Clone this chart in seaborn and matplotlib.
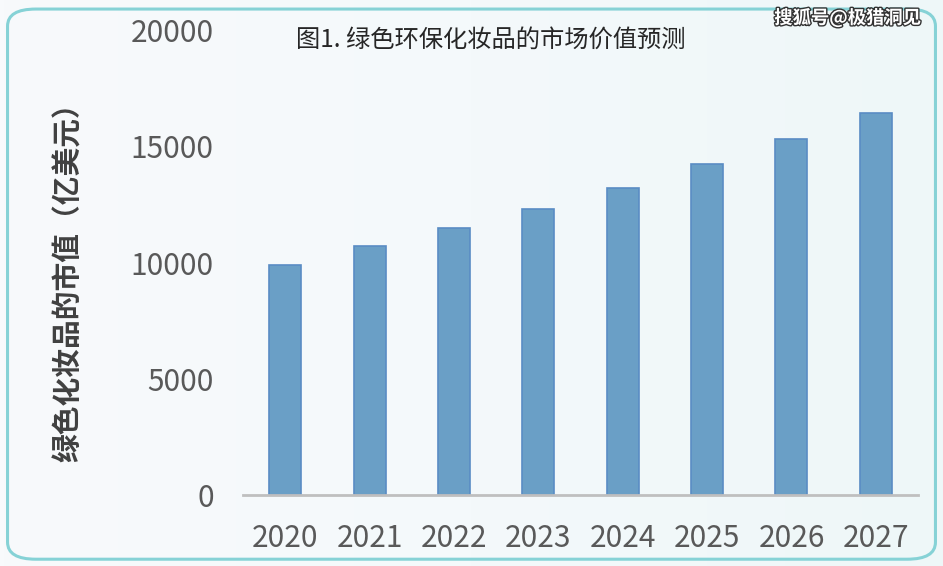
import matplotlib
matplotlib.use("Agg")
import matplotlib.pyplot as plt
import matplotlib.patheffects as pe
from matplotlib.patches import FancyBboxPatch
from matplotlib.colors import LinearSegmentedColormap
import numpy as np
import pandas as pd
import seaborn as sns

years = ["2020", "2021", "2022", "2023", "2024", "2025", "2026", "2027"]
values = [9900, 10700, 11500, 12300, 13200, 14250, 15300, 16450]
yticks = [0, 5000, 10000, 15000, 20000]
title = "图1. 绿色环保化妆品的市场价值预测"
ylabel = "绿色化妆品的市值（亿美元）"
watermark = "搜狐号@极猎洞见"

sns.set_style("white")
plt.rcParams['font.family'] = ['Noto Sans CJK SC', 'DejaVu Sans']

df = pd.DataFrame({"year": years, "value": values})

fig = plt.figure(figsize=(9.43, 5.66), dpi=100)
fig.patch.set_facecolor("white")

# background gradient panel
bg = fig.add_axes([0, 0, 1, 1], zorder=-10)
grad = np.linspace(0, 1, 256)[None, :]
cmap = LinearSegmentedColormap.from_list("bg", ["#f8fafc", "#f4f9fb", "#eef7f8"])
bg.imshow(grad, aspect="auto", cmap=cmap, extent=[0, 1, 0, 1])
bg.set_xlim(0, 1); bg.set_ylim(0, 1)
bg.axis("off")
border = FancyBboxPatch((0.008, 0.012), 0.984, 0.972,
                        boxstyle="round,pad=0,rounding_size=0.03",
                        transform=bg.transAxes, fill=False,
                        edgecolor="#86d2d6", linewidth=2.2)
bg.add_patch(border)

ax = fig.add_axes([0.2577, 0.1254, 0.7158, 0.8216])
ax.patch.set_alpha(0)
sns.barplot(data=df, x="year", y="value", ax=ax, color="#6a9fc6",
            width=0.38, saturation=1, edgecolor="#5a8cc4", linewidth=1.2)

ax.set_ylim(0, 20000)
ax.set_yticks(yticks)
ax.set_yticklabels([str(v) for v in yticks])
ax.tick_params(axis="both", length=0, labelsize=21.5, labelcolor="#595959")
ax.tick_params(axis="y", pad=21)
ax.tick_params(axis="x", pad=20)
ax.set_xlabel("")
ax.set_ylabel("")
for s in ["top", "right", "left"]:
    ax.spines[s].set_visible(False)
ax.spines["bottom"].set_color("#bfbfbf")
ax.spines["bottom"].set_linewidth(2)

fig.text(0.072, 0.514, ylabel, rotation=90, ha="center", va="center",
         fontsize=20.7, fontweight="bold", color="#404040")
fig.text(0.52, 0.929, title, ha="center", va="center", fontsize=17.5, color="#262626")
fig.text(0.899, 0.968, watermark, ha="center", va="center", fontsize=13.2,
         color="white", fontweight="bold",
         path_effects=[pe.withStroke(linewidth=2, foreground="#333333")])

fig.savefig("out.png", dpi=100)
